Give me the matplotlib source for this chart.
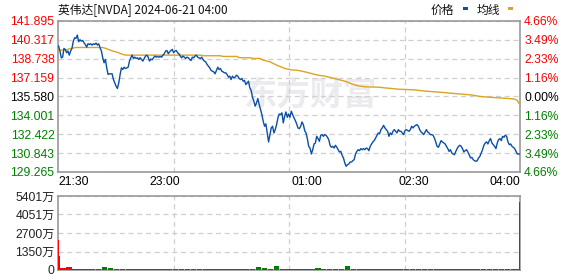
import numpy as np
import matplotlib
matplotlib.use("Agg")
import matplotlib.pyplot as plt
from matplotlib.patches import Rectangle

# ---------------- data ----------------
title = "英伟达[NVDA] 2024-06-21 04:00"
time_labels = ["21:30", "23:00", "01:00", "02:30", "04:00"]
time_label_minutes = [0, 90, 210, 300, 390]
session_minutes = 390

price_ticks = [141.895, 140.317, 138.738, 137.159, 135.580, 134.001, 132.422, 130.843, 129.265]
left_labels = ["141.895", "140.317", "138.738", "137.159", "135.580", "134.001", "132.422", "130.843", "129.265"]
right_labels = ["4.66%", "3.49%", "2.33%", "1.16%", "0.00%", "1.16%", "2.33%", "3.49%", "4.66%"]

price = [
    139.80, 139.38, 138.82, 138.87, 139.60, 139.52, 139.24, 139.38, 139.04, 139.38,
    139.60, 140.21, 140.49, 140.44, 140.72, 140.16, 140.33, 140.21, 140.27, 140.07,
    139.93, 139.71, 139.99, 139.93, 139.99, 139.88, 139.99, 139.93, 140.05, 139.88,
    139.99, 139.66, 139.38, 138.82, 138.40, 138.68, 137.98, 137.42, 137.48, 137.48,
    137.48, 137.00, 136.72, 136.44, 136.25, 136.72, 137.42, 137.98, 137.84, 138.03,
    137.92, 137.98, 138.03, 138.54, 138.82, 139.04, 138.76, 138.87, 138.76, 138.82,
    138.68, 138.82, 138.68, 138.54, 138.76, 138.96, 139.04, 138.87, 138.54, 138.71,
    138.65, 138.82, 138.96, 138.87, 138.93, 138.87, 138.93, 138.87, 139.04, 139.15,
    139.38, 139.43, 139.15,
    139.32, 139.43, 139.52, 139.24, 139.38, 139.43, 139.24, 139.15, 138.96, 138.82,
    138.96, 138.87, 138.76, 138.87, 138.82, 138.68, 138.59, 138.87, 138.82, 138.96,
    139.04, 138.87, 138.82, 138.76, 138.87, 138.68, 138.54, 138.48, 138.26, 138.12,
    137.98, 137.76, 137.70, 137.64, 137.48, 137.76, 138.03, 137.84, 137.92, 137.70,
    137.64, 137.56, 137.56, 137.42, 137.20, 137.28, 137.00, 137.28, 137.14, 137.20,
    137.36, 137.28, 137.09, 137.00, 137.09, 136.86, 136.92, 136.58, 136.72, 136.86,
    136.30, 136.08, 135.52, 135.19, 134.77, 135.05, 135.41, 134.91, 134.49, 134.07,
    133.51, 133.09, 133.29, 132.53, 131.78, 132.39, 132.95, 133.09, 132.53, 132.81,
    133.23, 133.79, 134.12,
    134.07, 134.21, 133.37, 133.93, 134.29, 133.84, 134.12, 133.84, 134.35, 134.07,
    133.79, 133.57, 133.29, 132.95, 132.89, 133.09, 133.45, 133.23, 132.73, 132.53,
    132.06, 131.41, 131.27, 130.77, 131.13, 131.61, 131.69, 132.25, 132.06, 131.83,
    132.34, 132.39, 132.25, 132.39, 132.34, 132.17, 131.97, 131.50, 131.33, 131.41,
    131.27, 131.50, 131.33, 131.13, 130.94, 130.99, 130.66, 130.44, 130.02, 129.74,
    129.88, 129.93, 130.10, 130.10, 130.21, 130.30, 130.77, 130.99, 131.13, 131.05,
    131.22, 131.13, 131.22, 131.13, 131.27, 131.22, 131.05, 131.41, 131.61, 131.78,
    131.89, 132.11, 132.34, 132.53, 132.45, 132.81, 132.95, 133.17, 132.95, 132.81,
    132.67, 132.25, 132.53, 132.39, 132.67, 132.81, 132.67, 132.53, 132.81, 132.67,
    132.67, 132.53, 132.39, 132.73, 132.81, 132.73, 132.67, 132.81, 133.09, 132.95,
    133.09, 133.17, 133.23, 133.09, 132.81, 132.61, 132.53, 132.39, 132.61, 132.81,
    132.61, 132.53, 132.39, 132.39, 132.34, 132.11, 131.78, 131.41, 131.33, 131.61,
    131.89, 131.78, 131.69, 131.61, 131.41, 131.22, 130.99, 131.13, 130.85, 130.77,
    130.71, 130.99, 131.22, 131.41, 131.50, 131.41, 131.22, 130.94, 131.05, 131.13,
    130.94, 130.71, 130.44, 130.49, 130.30, 130.21, 130.16, 130.21, 130.44, 130.58,
    130.85, 131.13, 131.50, 131.69, 131.78, 131.61, 131.89, 132.06, 131.69, 131.55,
    131.41, 131.22, 131.69, 131.97, 132.06, 131.89, 132.25, 132.17, 132.34, 132.25,
    131.78, 131.55, 131.61, 131.41, 131.33, 131.22, 130.99, 130.77, 130.77, 130.77,
]

avg_minutes = [0.5, 6.8, 9.6, 12.4, 15.2, 37.7, 40.5, 43.3, 46.1, 48.9, 51.8, 54.6, 57.4,
               94.6, 119.9, 122.7, 136.8, 139.6, 150.8, 153.6, 162.1, 164.9, 170.5, 173.3,
               179.0, 184.6, 190.2, 191.6, 197.2, 202.9, 208.5, 214.1, 219.7, 225.4, 231.0,
               236.6, 242.3, 247.9, 253.5, 259.1, 270.4, 276.0, 281.6, 287.3, 300.0, 311.2,
               322.5, 330.9, 342.2, 350.6, 356.2, 364.7, 375.9, 384.4, 387.2, 389.5]
avg_price = [139.46, 139.46, 139.57, 139.63, 139.68, 139.68, 139.60, 139.49, 139.38, 139.32,
             139.21, 139.10, 139.04, 139.04, 139.04, 138.99, 138.99, 138.93, 138.93, 138.82,
             138.82, 138.76, 138.76, 138.62, 138.48, 138.20, 137.98, 137.92, 137.81, 137.76,
             137.64, 137.50, 137.36, 137.28, 137.14, 137.00, 136.86, 136.64, 136.47, 136.39,
             136.36, 136.30, 136.25, 136.19, 136.14, 136.02, 135.94, 135.86, 135.77, 135.69,
             135.58, 135.52, 135.44, 135.38, 135.30, 134.96]

vol_ticks = [0, 1350, 2700, 4051, 5401]
vol_labels = ["0", "1350万", "2700万", "4051万", "5401万"]
vol_minutes = [0, 1] + list(range(2, 388, 5)) + [389]
vol_values = [2190, 1020,
              150, 200, 60, 55, 65, 60, 50, 200, 150, 60,
              60, 55, 65, 60, 60, 50, 60, 65, 55, 60,
              60, 55, 65, 60, 60, 50, 60, 65, 55, 60,
              60, 60, 60, 220, 170, 60, 290, 60, 60, 60,
              60, 60, 60, 150, 60, 60, 60, 60, 290, 60,
              60, 55, 65, 60, 60, 50, 60, 65, 55, 60,
              60, 55, 65, 60, 60, 50, 60, 65, 55, 60,
              60, 55, 65, 60, 60, 50, 60, 65,
              4960]
vol_dir = ("RG" + "RRGRGRGGGR" + "GRGRGRGRGR" + "GRGRGRGRGR" + "GRRGGRGRGR"
           + "GRRGRGRRGR" + "GRGRGRGRGR" + "GRGRGRGRGR" + "GRGRGRGR" + "G")

# ---------------- styling ----------------
W, H = 578, 276
RED, GREEN, BLACK = "#ff0000", "#008000", "#000000"
BLUE, GOLD = "#0a4fa8", "#daa520"
SPINE, GRID = "#999999", "#cfcfcf"
NUM_FONT = ["Liberation Sans", "DejaVu Sans"]
CJK_FONT = ["Noto Sans CJK SC", "DejaVu Sans"]
plt.rcParams["font.family"] = ["Liberation Sans", "Noto Sans CJK SC", "DejaVu Sans"]

fig = plt.figure(figsize=(W / 100, H / 100), dpi=100)
fig.patch.set_facecolor("white")


def px_axes(l, t, r, b):
    return fig.add_axes([l / W, 1 - b / H, (r - l) / W, (b - t) / H])


ax = px_axes(58, 21, 520, 172)
axv = px_axes(58, 196, 520, 270)

quarters = [session_minutes * q / 4 for q in (1, 2, 3)]

for a in (ax, axv):
    a.set_xlim(0, session_minutes)
    for s in a.spines.values():
        s.set_color(SPINE)
        s.set_linewidth(1.2)
    a.set_xticks(quarters, minor=True)
    a.grid(which="minor", axis="x", color=GRID, linestyle=(0, (4, 3)), linewidth=0.9)
    a.tick_params(which="both", length=0)
    a.set_axisbelow(True)

# watermark
ax.text(0.545, 0.50, "东方财富", transform=ax.transAxes, fontsize=24, color="#ebebef",
        ha="center", va="center", fontweight="bold", style="italic", family=CJK_FONT, zorder=0)

# price and average lines
x_price = np.linspace(0.5, session_minutes, len(price))
ax.plot(avg_minutes, avg_price, color=GOLD, lw=1.0, zorder=3)
ax.plot(x_price, price, color=BLUE, lw=1.0, zorder=4)

ax.set_ylim(price_ticks[-1], price_ticks[0])
ax.set_yticks(price_ticks)
ax.set_yticklabels(left_labels, fontsize=8.7, family=NUM_FONT)
ax.grid(which="major", axis="y", color=GRID, linestyle=(0, (4, 3)), linewidth=0.9)
ax.tick_params(axis="y", pad=2.5)
label_colors = [RED] * 4 + [BLACK] + [GREEN] * 4
for lab, c in zip(ax.get_yticklabels(), label_colors):
    lab.set_color(c)

ax.set_xticks(time_label_minutes)
ax.set_xticklabels(time_labels, fontsize=8.7, family=NUM_FONT)
ax.tick_params(axis="x", pad=3)
xl = ax.get_xticklabels()
xl[0].set_ha("left")
xl[-1].set_ha("right")

axr = ax.twinx()
axr.set_ylim(ax.get_ylim())
axr.set_yticks(price_ticks)
axr.set_yticklabels(right_labels, fontsize=8.7, family=NUM_FONT)
axr.tick_params(length=0, pad=3)
for s in axr.spines.values():
    s.set_visible(False)
for lab, c in zip(axr.get_yticklabels(), label_colors):
    lab.set_color(c)

# volume
vol_w = list(np.diff(vol_minutes)) + [1]
vol_w = [w * (0.92 if w > 1 else 1.0) for w in vol_w]
vol_colors = [RED if d == "R" else GREEN for d in vol_dir]
axv.bar(vol_minutes, vol_values, width=vol_w, align="edge", color=vol_colors, linewidth=0, zorder=3)
axv.set_ylim(0, vol_ticks[-1])
axv.set_yticks(vol_ticks)
axv.set_yticklabels(vol_labels, fontsize=8.7, color="#222222", family=["Liberation Sans", "Noto Sans CJK SC"])
axv.grid(which="major", axis="y", color=GRID, linestyle=(0, (4, 3)), linewidth=0.9)
axv.set_xticks([])
axv.tick_params(axis="y", pad=2.5)

# title & legend
fig.text(58 / W, 1 - 10 / H, title, fontsize=8.5, va="center", ha="left", family=CJK_FONT, color="#111111")
fig.text(431 / W, 1 - 10 / H, "价格", fontsize=8.5, va="center", ha="left", family=CJK_FONT, color="#111111")
fig.text(477 / W, 1 - 10 / H, "均线", fontsize=8.5, va="center", ha="left", family=CJK_FONT, color="#111111")
fig.patches.append(Rectangle((463 / W, 1 - 10 / H), 5 / W, 3 / H, transform=fig.transFigure,
                             facecolor=BLUE, edgecolor="none"))
fig.patches.append(Rectangle((508 / W, 1 - 10 / H), 5 / W, 3 / H, transform=fig.transFigure,
                             facecolor=GOLD, edgecolor="none"))

fig.savefig("out.png", dpi=100)
